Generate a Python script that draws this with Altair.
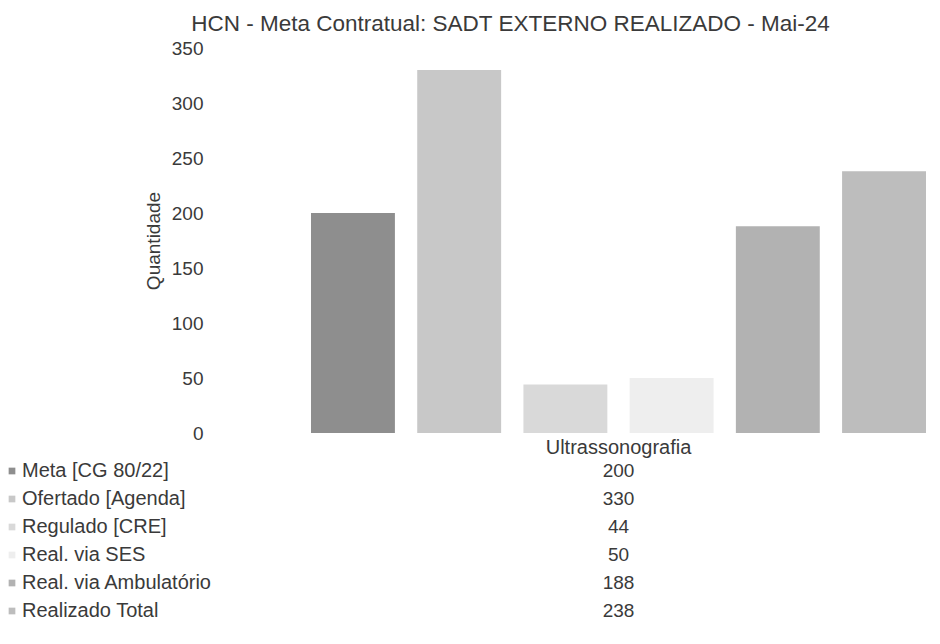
import altair as alt
import pandas as pd

# ---- data ----
categoria = ["Ultrassonografia"]
series = [
    "Meta [CG 80/22]",
    "Ofertado [Agenda]",
    "Regulado [CRE]",
    "Real. via SES",
    "Real. via Ambulatório",
    "Realizado Total",
]
valores = [200, 330, 44, 50, 188, 238]
cores = ["#8e8e8e", "#c8c8c8", "#d9d9d9", "#eeeeee", "#b2b2b2", "#bdbdbd"]
y_ticks = [0, 50, 100, 150, 200, 250, 300, 350]
titulo = "HCN - Meta Contratual: SADT EXTERNO REALIZADO - Mai-24"

df = pd.DataFrame({
    "categoria": categoria * len(series),
    "serie": series,
    "valor": valores,
})

FONT = "Liberation Sans"
TXT = "#3a3a3a"

color = alt.Color("serie:N", scale=alt.Scale(domain=series, range=cores), legend=None)

bars = alt.Chart(df).mark_bar().encode(
    x=alt.X(
        "categoria:N",
        scale=alt.Scale(paddingInner=0, paddingOuter=0),
        axis=alt.Axis(title=None, labelFontSize=20, labelPadding=4, domain=False,
                      ticks=False, labelAngle=0, labelColor=TXT, labelFont=FONT),
    ),
    xOffset=alt.XOffset("serie:N", sort=series,
                        scale=alt.Scale(paddingInner=0.21, paddingOuter=0)),
    y=alt.Y(
        "valor:Q",
        scale=alt.Scale(domain=[0, 350], nice=False),
        axis=alt.Axis(values=y_ticks, title="Quantidade", grid=False, domain=False,
                      ticks=False, labelPadding=108, labelFontSize=19, labelFont=FONT,
                      labelColor=TXT, titleFontSize=19, titleFont=FONT,
                      titleFontWeight="normal", titleColor=TXT, titlePadding=8),
    ),
    color=color,
).properties(
    width=615,
    height=385,
    title=alt.TitleParams(titulo, fontSize=22.5, font=FONT, fontWeight="normal",
                          color=TXT, anchor="middle", dx=-108, offset=4),
)

table_base = alt.Chart(df).encode(
    y=alt.Y("serie:N", sort=series, axis=None,
            scale=alt.Scale(paddingInner=0, paddingOuter=0)),
)
vals = table_base.mark_text(fontSize=19, font=FONT, color=TXT, baseline="middle").encode(
    x=alt.X("categoria:N", axis=None, scale=alt.Scale(paddingInner=0, paddingOuter=0)),
    text=alt.Text("valor:Q"),
)
labels = table_base.mark_text(fontSize=20, font=FONT, color=TXT, align="left",
                              baseline="middle").encode(
    x=alt.value(-289),
    text=alt.Text("serie:N"),
)
swatches = table_base.mark_square(size=45, opacity=1).encode(
    x=alt.value(-299),
    color=color,
)
table = alt.layer(swatches, labels, vals).properties(width=615, height=168)

chart = alt.vconcat(bars, table, spacing=0).properties(
    padding={"left": 0, "top": 4, "right": 0, "bottom": 0},
).configure_view(stroke=None)

chart.save("out.html", embed_options={"renderer": "svg", "actions": False})
